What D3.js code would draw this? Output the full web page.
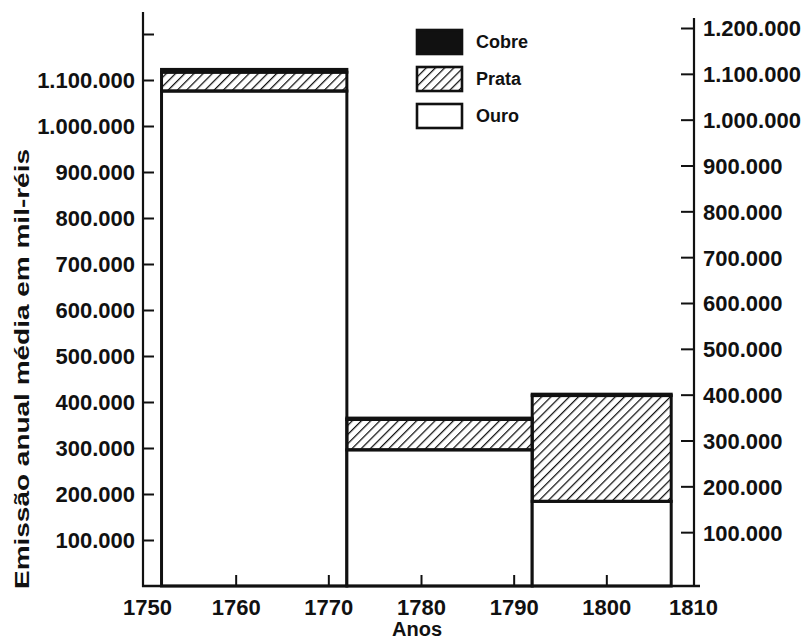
<!DOCTYPE html>
<html>
<head>
<meta charset="utf-8">
<script src="https://cdn.jsdelivr.net/npm/d3@7"></script>
<style>
  body { margin: 0; background: #fff; }
  text { font-family: "Liberation Sans", Arial, Helvetica, sans-serif; fill: #111; }
</style>
</head>
<body>
<div id="chart"></div>
<script>
// periods of coinage (years)
var startYears = [1752, 1772, 1792];
var endYears = [1772, 1792, 1807];

// average yearly issue, mil-réis
var ouro = [1076000, 296000, 184000];
var prata = [41000, 66000, 230000];
var cobre = [6000, 3000, 3000];

var seriesNames = ["Cobre", "Prata", "Ouro"];
var xTicks = [1750, 1760, 1770, 1780, 1790, 1800, 1810];
var yTicks = [100000, 200000, 300000, 400000, 500000, 600000, 700000, 800000, 900000, 1000000, 1100000, 1200000];

var svgWidth = 809;
var svgHeight = 642;

var svg = d3.select("#chart")
    .append("svg")
    .attr("width", svgWidth)
    .attr("height", svgHeight);

// hatch for prata
svg.append("defs")
    .append("pattern")
    .attr("id", "hatch")
    .attr("patternUnits", "userSpaceOnUse")
    .attr("width", 6.5)
    .attr("height", 6.5)
    .attr("patternTransform", "rotate(45)")
    .append("line")
    .attr("x1", 0).attr("y1", 0)
    .attr("x2", 0).attr("y2", 6.5)
    .attr("stroke", "#111")
    .attr("stroke-width", 2.5);

var pt = d3.formatLocale({decimal: ",", thousands: ".", grouping: [3], currency: ["", ""]});
var fmt = pt.format(",");

// scales
var xScale = d3.scaleLinear()
    .domain([1750, 1810])
    .range([143, 699]);

var yScale = d3.scaleLinear()
    .domain([0, 1200000])
    .range([586, 34]);

// right axis sits a little higher on the scanned page
var yRight = d3.scaleLinear()
    .domain([0, 1200000])
    .range([578, 28]);

// stacked data
var bars = startYears.map(function(s, i) {
    return {
        x0: s,
        x1: endYears[i],
        segs: [
            {name: "Ouro", y0: 0, y1: ouro[i], fill: "#fff"},
            {name: "Prata", y0: ouro[i], y1: ouro[i] + prata[i], fill: "url(#hatch)"},
            {name: "Cobre", y0: ouro[i] + prata[i], y1: ouro[i] + prata[i] + cobre[i], fill: "#111"}
        ]
    };
});

var barGroup = svg.append("g");

barGroup.selectAll("g")
    .data(bars)
    .enter()
    .append("g")
    .selectAll("rect")
    .data(function(d) {
        return d.segs.map(function(s) { return {x0: d.x0, x1: d.x1, s: s}; });
    })
    .enter()
    .append("rect")
    .attr("x", d => xScale(d.x0))
    .attr("width", d => xScale(d.x1) - xScale(d.x0))
    .attr("y", d => yScale(d.s.y1))
    .attr("height", d => yScale(d.s.y0) - yScale(d.s.y1))
    .attr("fill", d => d.s.fill)
    .attr("stroke", "#111")
    .attr("stroke-width", 3);

// left axis, ticks pointing inward
var leftAxis = d3.axisLeft(yScale)
    .tickValues(yTicks)
    .tickSizeInner(-11)
    .tickSizeOuter(0)
    .tickPadding(8)
    .tickFormat(d => d < 1200000 ? fmt(d) : "");

var gLeft = svg.append("g")
    .attr("transform", "translate(143,0)")
    .call(leftAxis);
gLeft.select(".domain").remove();
gLeft.selectAll(".tick line").attr("stroke", "#111").attr("stroke-width", 2);
gLeft.selectAll("text").style("font-size", "22px").style("font-weight", "bold").attr("dy", "0.36em");
gLeft.append("line")
    .attr("x1", 0).attr("x2", 0)
    .attr("y1", 12).attr("y2", 587)
    .attr("stroke", "#111").attr("stroke-width", 2.2);

// right axis
var rightAxis = d3.axisRight(yRight)
    .tickValues(yTicks)
    .tickSizeInner(-13)
    .tickSizeOuter(0)
    .tickPadding(9)
    .tickFormat(fmt);

var gRight = svg.append("g")
    .attr("transform", "translate(694,0)")
    .call(rightAxis);
gRight.select(".domain").remove();
gRight.selectAll(".tick line").attr("stroke", "#111").attr("stroke-width", 2);
gRight.selectAll("text").style("font-size", "22px").style("font-weight", "bold").attr("dy", "0.36em");
gRight.append("line")
    .attr("x1", 0).attr("x2", 0)
    .attr("y1", 18).attr("y2", 587)
    .attr("stroke", "#111").attr("stroke-width", 2.2);

// bottom axis
var bottomAxis = d3.axisBottom(xScale)
    .tickValues(xTicks)
    .tickSizeInner(-11)
    .tickSizeOuter(0)
    .tickPadding(13)
    .tickFormat(d => String(d));

var gBottom = svg.append("g")
    .attr("transform", "translate(0,586)")
    .call(bottomAxis);
gBottom.select(".domain").remove();
gBottom.selectAll(".tick line")
    .attr("stroke", "#111").attr("stroke-width", 2)
    .attr("opacity", d => (d === 1750 || d === 1810) ? 0 : 1);
gBottom.selectAll("text").style("font-size", "22px").style("font-weight", "bold").attr("dy", "0.72em");
gBottom.selectAll(".tick text").attr("dx", d => d === 1750 ? 4 : (d === 1810 ? -6 : 0));
gBottom.append("line")
    .attr("x1", 142).attr("x2", 700)
    .attr("y1", 0).attr("y2", 0)
    .attr("stroke", "#111").attr("stroke-width", 2.4);

// axis titles
svg.append("text")
    .attr("x", 417)
    .attr("y", 636)
    .attr("text-anchor", "middle")
    .style("font-size", "20px")
    .style("font-weight", "bold")
    .text("Anos");

svg.append("text")
    .attr("transform", "translate(29,369) rotate(-90)")
    .attr("text-anchor", "middle")
    .attr("textLength", 440)
    .attr("lengthAdjust", "spacingAndGlyphs")
    .style("font-size", "21px")
    .style("font-weight", "bold")
    .text("Emissão anual média em mil-réis");

// legend
var legendFills = {"Cobre": "#111", "Prata": "url(#hatch)", "Ouro": "#fff"};
var legend = svg.append("g")
    .attr("transform", "translate(417,30)");

var items = legend.selectAll("g")
    .data(seriesNames)
    .enter()
    .append("g")
    .attr("transform", (d, i) => `translate(0, ${i * 37})`);

items.append("rect")
    .attr("width", 45)
    .attr("height", 24)
    .attr("fill", d => legendFills[d])
    .attr("stroke", "#111")
    .attr("stroke-width", 2.6);

items.append("text")
    .attr("x", 59)
    .attr("y", 12)
    .attr("dy", "0.36em")
    .style("font-size", "18px")
    .style("font-weight", "bold")
    .text(d => d);
</script>
</body>
</html>
